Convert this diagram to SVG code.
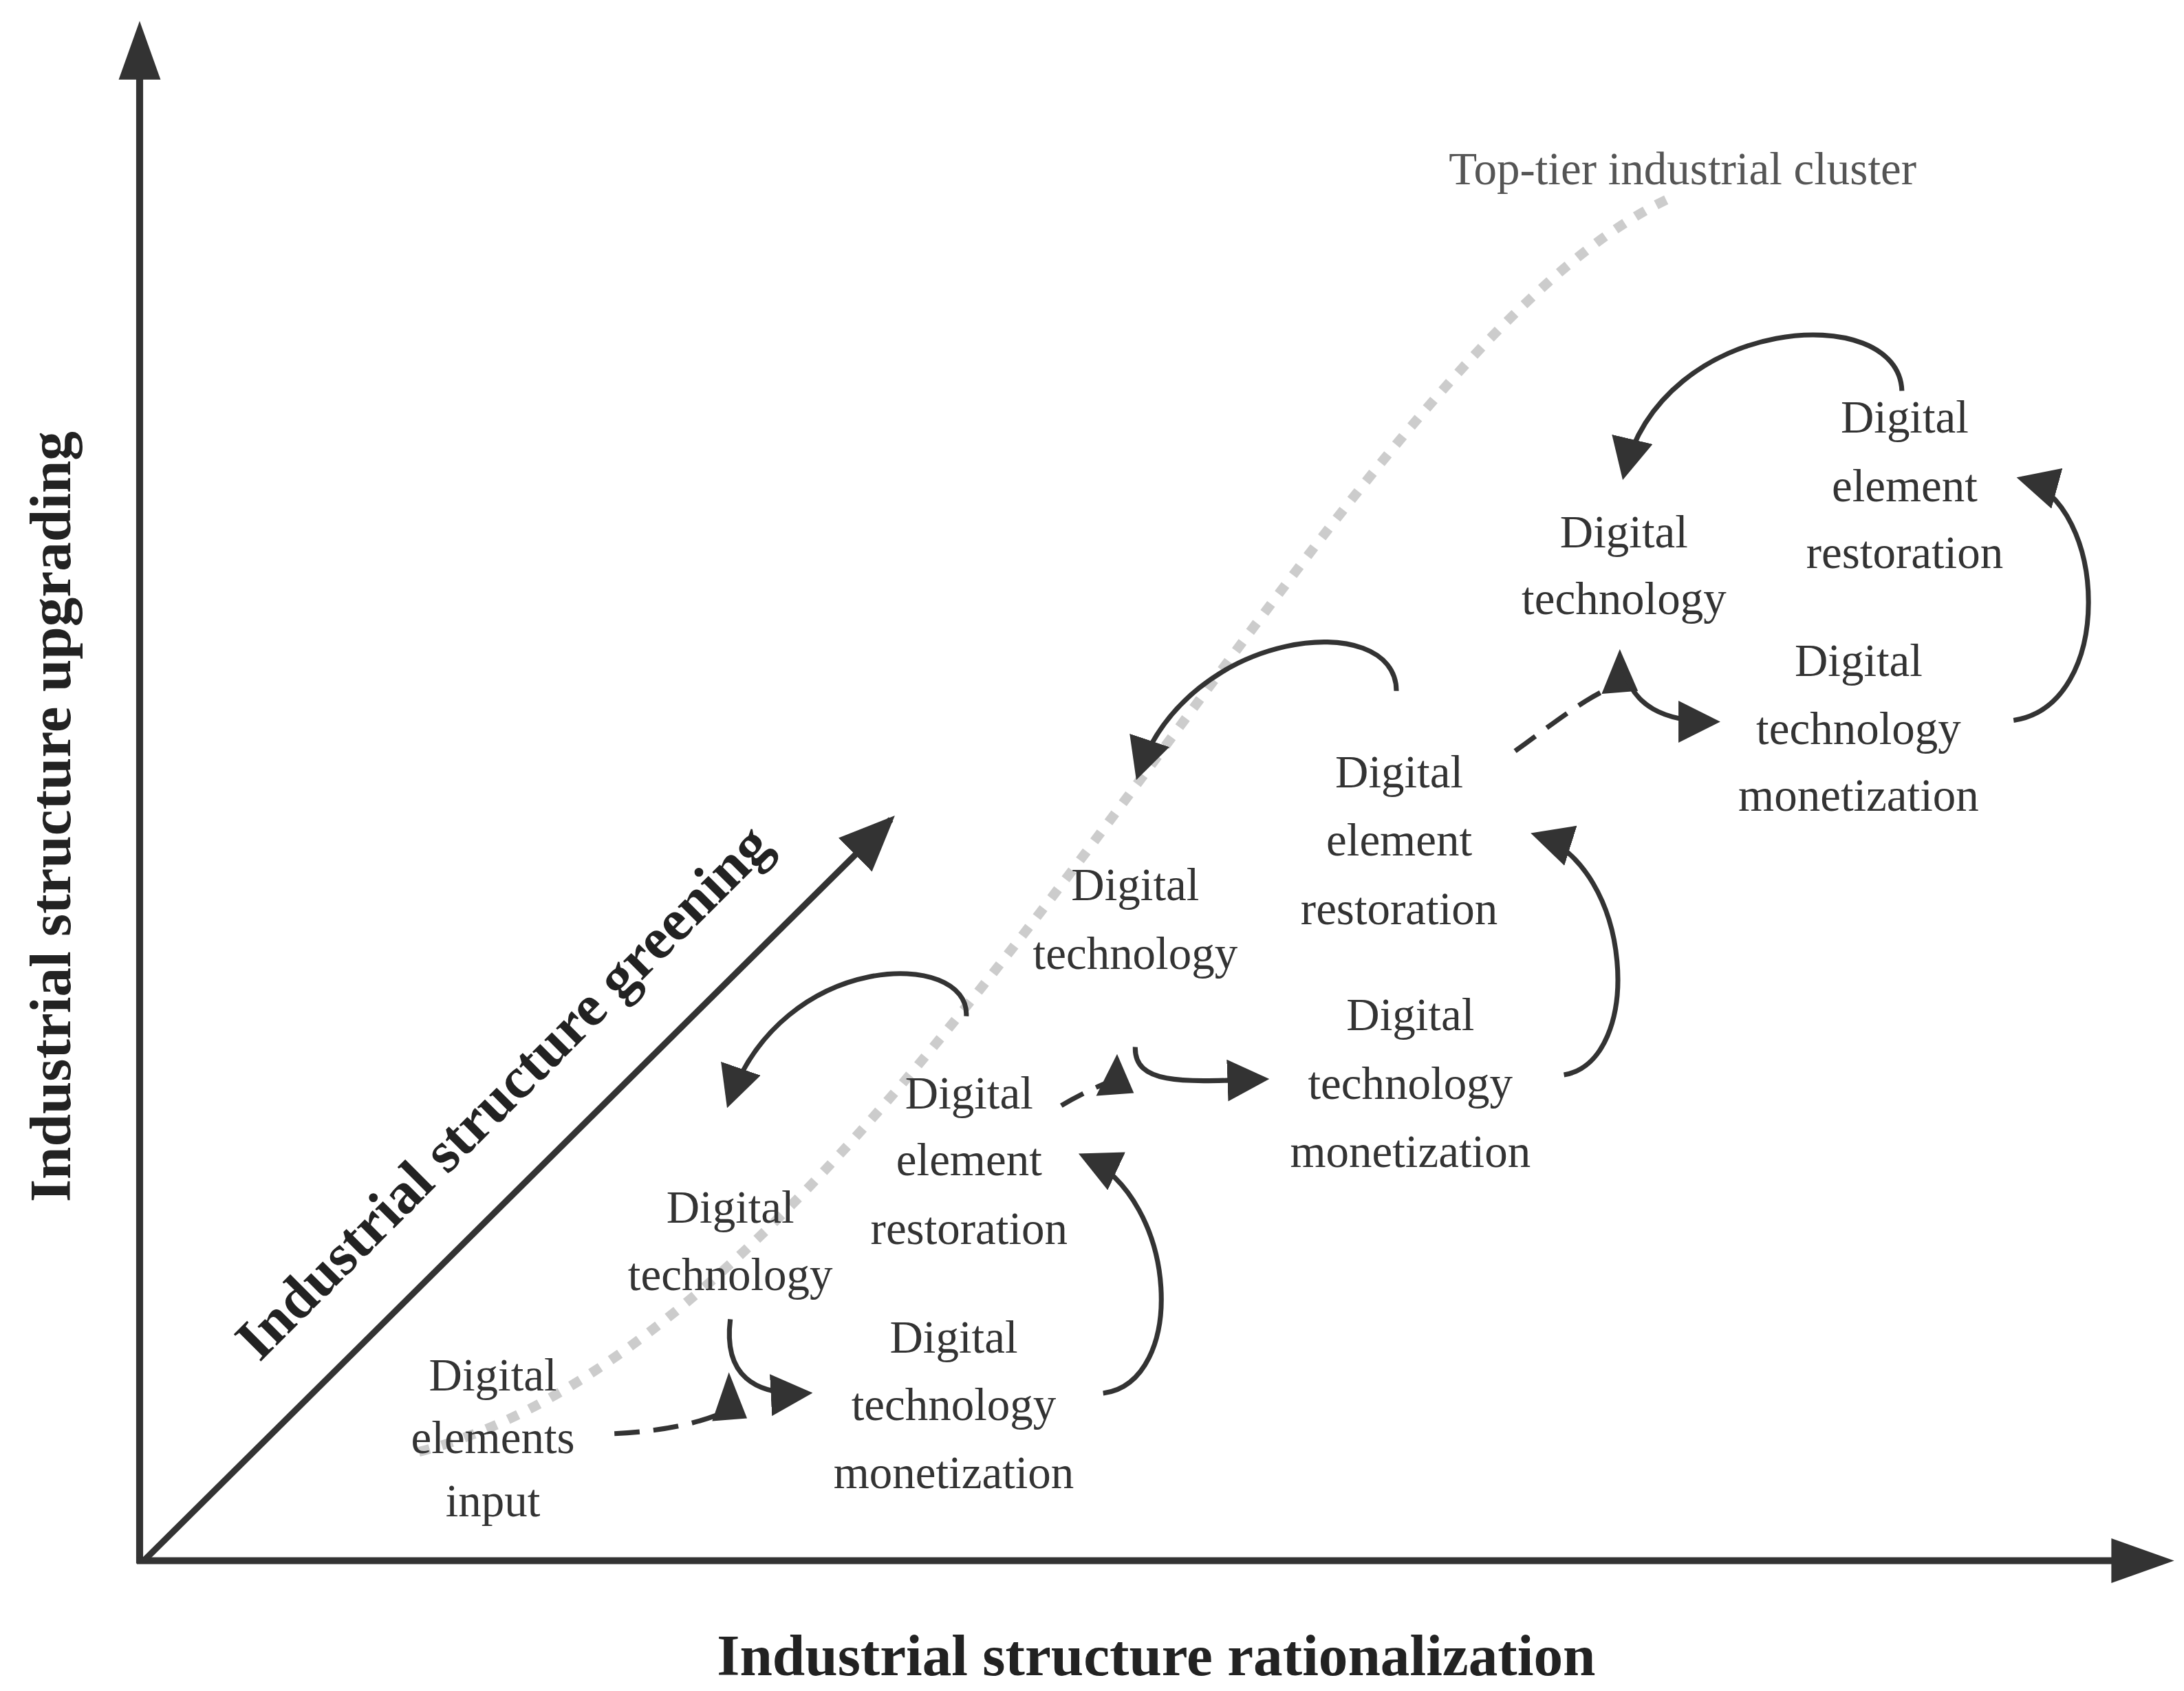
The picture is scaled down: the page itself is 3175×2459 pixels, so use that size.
<svg xmlns="http://www.w3.org/2000/svg" width="3175" height="2459" viewBox="0 0 3175 2459">
<style>
.t{font-family:"Liberation Serif",serif;font-size:33px;fill:#333;text-anchor:middle}
.b{font-family:"Liberation Serif",serif;font-weight:bold;font-size:42px;fill:#222;text-anchor:middle}
.c{fill:none;stroke:#333;stroke-width:3.5}
.d{fill:none;stroke:#333;stroke-width:3.5;stroke-dasharray:18 10}
</style>
<defs>
<marker id="ah" viewBox="0 0 30 30" refX="26" refY="15" markerWidth="30" markerHeight="30" markerUnits="userSpaceOnUse" orient="auto"><path d="M0,0 L30,15 L0,30 Z" fill="#333"/></marker>
<marker id="ahb" viewBox="0 0 40 40" refX="36" refY="20" markerWidth="40" markerHeight="40" markerUnits="userSpaceOnUse" orient="auto"><path d="M0,3 L40,20 L0,37 Z" fill="#333"/></marker>
</defs>
<rect width="3175" height="2459" fill="#fff"/>
<g transform="scale(2.03)">
<g id="axes">
<line x1="100" y1="1120" x2="100" y2="50" stroke="#333" stroke-width="5"/>
<polygon points="100,15 85,57 115,57" fill="#333"/>
<line x1="98" y1="1118" x2="1515" y2="1118" stroke="#333" stroke-width="5"/>
<polygon points="1557,1118 1512,1102 1512,1134" fill="#333"/>
<line x1="103" y1="1118" x2="638" y2="587" stroke="#333" stroke-width="4.5" marker-end="url(#ahb)"/>
<text class="b" transform="translate(50,585) rotate(-90)">Industrial structure upgrading</text>
<text class="b" x="828" y="1200">Industrial structure rationalization</text>
<text class="b" transform="translate(370,792) rotate(-45)">Industrial structure greening</text>
</g>
<g id="cluster">
<path d="M300,1040 C650,950 950,250 1200,140" fill="none" stroke="#ccc" stroke-width="7" stroke-dasharray="8 9"/>
<text class="t" x="1205" y="132" fill="#555" style="fill:#555">Top-tier industrial cluster</text>
</g>
<g id="n1"><text class="t" x="353" y="996">Digital</text><text class="t" x="353" y="1041">elements</text><text class="t" x="353" y="1086">input</text></g>
<g id="n2"><text class="t" x="523" y="876">Digital</text><text class="t" x="523" y="924">technology</text></g>
<g id="n3"><text class="t" x="694" y="794">Digital</text><text class="t" x="694" y="842">element</text><text class="t" x="694" y="891">restoration</text></g>
<g id="n4"><text class="t" x="683" y="969">Digital</text><text class="t" x="683" y="1017">technology</text><text class="t" x="683" y="1066">monetization</text></g>
<g id="n5"><text class="t" x="813" y="645">Digital</text><text class="t" x="813" y="694">technology</text></g>
<g id="n6"><text class="t" x="1002" y="564">Digital</text><text class="t" x="1002" y="613">element</text><text class="t" x="1002" y="662">restoration</text></g>
<g id="n7"><text class="t" x="1010" y="738">Digital</text><text class="t" x="1010" y="787">technology</text><text class="t" x="1010" y="836">monetization</text></g>
<g id="n8"><text class="t" x="1163" y="392">Digital</text><text class="t" x="1163" y="440">technology</text></g>
<g id="n9"><text class="t" x="1364" y="310">Digital</text><text class="t" x="1364" y="359">element</text><text class="t" x="1364" y="407">restoration</text></g>
<g id="n10"><text class="t" x="1331" y="484">Digital</text><text class="t" x="1331" y="533">technology</text><text class="t" x="1331" y="581">monetization</text></g>
<g id="connectors">
<path class="d" d="M440,1027 C480,1025 505,1018 522,1010"/>
<polygon points="522,983 510,1018 535,1016" fill="#333"/>
<path class="c" d="M523,945 C518,985 540,1000 578,998" marker-end="url(#ah)"/>
<path class="c" d="M790,998 C850,990 845,860 776,828" marker-end="url(#ah)"/>
<path class="c" d="M692,728 C695,680 560,680 522,790" marker-end="url(#ah)"/>
<path class="d" d="M760,792 C780,780 795,775 805,770"/>
<polygon points="800,755 785,785 812,783" fill="#333"/>
<path class="c" d="M813,750 C812,778 850,775 905,773" marker-end="url(#ah)"/>
<path class="c" d="M1120,770 C1178,760 1170,620 1100,598" marker-end="url(#ah)"/>
<path class="c" d="M1000,495 C1000,435 850,450 815,555" marker-end="url(#ah)"/>
<path class="d" d="M1085,538 C1110,520 1135,500 1155,492"/>
<polygon points="1160,465 1147,497 1173,495" fill="#333"/>
<path class="c" d="M1163,480 C1170,505 1190,517 1228,517" marker-end="url(#ah)"/>
<path class="c" d="M1442,516 C1515,505 1510,360 1448,343" marker-end="url(#ah)"/>
<path class="c" d="M1362,280 C1360,215 1190,225 1163,340" marker-end="url(#ah)"/>
</g>
</g>
</svg>
